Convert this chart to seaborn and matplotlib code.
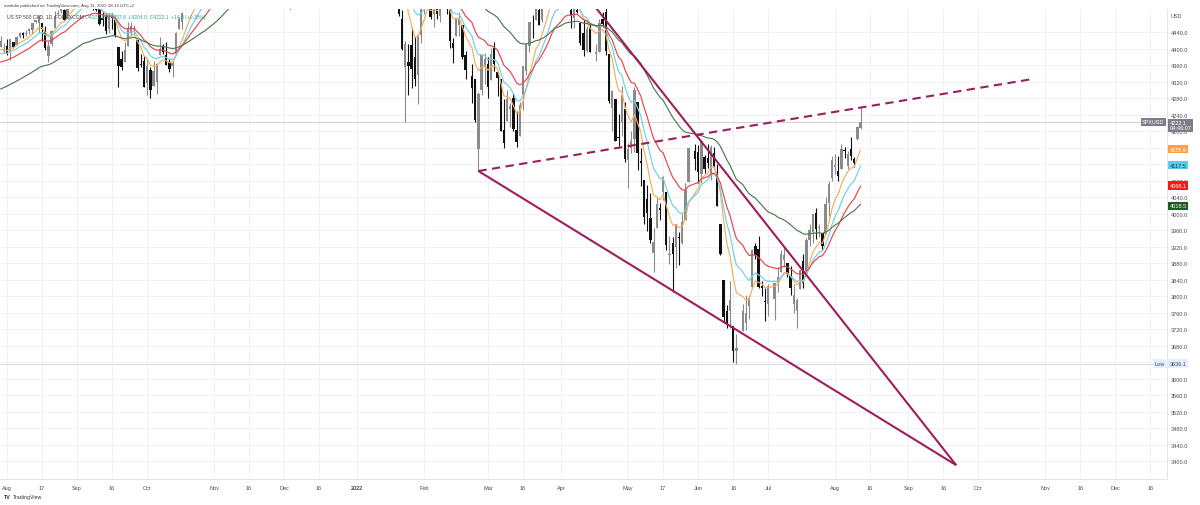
import numpy as np
import pandas as pd
import matplotlib.pyplot as plt
import seaborn as sns

# =========================
# Data: US SP 500 CFD, 1D (FOREXCOM), 29 Jul 2021 - 11 Aug 2022
# =========================
first_day = "2021-07-29"
last_day = "2022-08-11"
holidays = ["2021-09-06", "2021-11-25", "2021-12-24", "2022-01-17", "2022-02-21",
            "2022-04-15", "2022-05-30", "2022-06-20", "2022-07-04"]

opens = [
    4403.6, 4395.1,
    4406.9, 4392.7, 4415.9, 4408.9, 4429.1, 4437.8, 4435.8, 4442.2, 4446.1, 4464.8, 4461.6,
    4462.1, 4440.9, 4382.4, 4410.6, 4450.3, 4484.4, 4490.5, 4493.8, 4474.1, 4513.8, 4529.8,
    4528.8, 4534.5, 4532.4, 4535.4, 4518.1, 4513.0, 4506.9, 4474.8, 4479.3, 4447.5, 4477.1,
    4469.7, 4403.0, 4374.5, 4367.4, 4406.8, 4438.0, 4442.1, 4419.5, 4362.4, 4370.7,
    4317.2, 4348.8, 4309.9, 4319.6, 4383.7, 4406.5, 4385.4, 4368.3, 4358.0, 4386.8, 4447.7,
    4463.7, 4497.3, 4524.4, 4532.2, 4546.1, 4553.7, 4578.7, 4580.2, 4562.8, 4572.9,
    4610.6, 4613.3, 4630.7, 4662.9, 4699.3, 4701.5, 4707.3, 4670.3, 4659.4, 4655.2, 4689.3,
    4679.4, 4701.5, 4700.7, 4708.4, 4712.0, 4678.5, 4675.8, 4664.6, 4628.8, 4640.2,
    4602.8, 4504.7, 4589.5, 4548.4, 4632.0, 4690.9, 4691.0, 4687.6, 4710.3, 4642.0, 4636.5,
    4719.1, 4652.5, 4587.9, 4595.0, 4650.4, 4704.0, 4734.0, 4795.5, 4788.6, 4794.2, 4775.2,
    4778.1, 4804.5, 4788.0, 4693.4, 4697.7, 4655.3, 4669.1, 4728.6, 4733.6, 4638.0,
    4632.2, 4588.0, 4547.4, 4471.4, 4356.3, 4366.6, 4408.4, 4380.6, 4336.2, 4431.8,
    4519.6, 4566.4, 4535.4, 4482.8, 4505.8, 4480.0, 4547.0, 4553.2, 4506.3, 4412.6,
    4429.3, 4455.8, 4456.1, 4384.6, 4332.7, 4324.9, 4155.8, 4298.4, 4354.2,
    4363.1, 4322.6, 4401.3, 4342.1, 4327.0, 4202.7, 4223.1, 4252.6, 4279.5, 4202.8, 4188.8,
    4288.1, 4345.1, 4407.3, 4462.4, 4469.1, 4493.1, 4470.0, 4522.9, 4541.1, 4602.9, 4624.2, 4599.0,
    4540.3, 4548.0, 4572.5, 4494.2, 4474.7, 4494.2, 4462.6, 4437.6, 4394.3, 4449.1,
    4385.6, 4390.6, 4472.3, 4489.2, 4385.8, 4255.3, 4278.1, 4186.5, 4222.6, 4253.8,
    4130.6, 4159.8, 4181.2, 4270.4, 4128.2, 4081.3, 4035.2, 3990.1, 3904.0, 3963.9, 4013.0,
    4052.0, 4052.0, 3899.0, 3927.8, 3919.4, 3942.9, 3929.6, 3984.6, 4077.4, 4151.1,
    4149.8, 4095.4, 4137.6, 4134.7, 4096.5, 4147.1, 4101.7, 3974.4, 3838.2, 3763.5, 3764.1,
    3728.2, 3665.9, 3715.3, 3733.9, 3774.7, 3821.8, 3920.8, 3913.0, 3825.1, 3786.0,
    3781.0, 3792.6, 3832.0, 3858.9, 3888.3, 3880.9, 3852.0, 3779.7, 3764.0, 3818.0,
    3883.8, 3860.7, 3935.3, 3955.5, 4000.5, 3965.7, 3953.2, 3951.4, 4026.1, 4087.3,
    4112.4, 4104.2, 4108.0, 4154.9, 4115.9, 4155.9, 4133.1, 4181.0, 4207.6,
]
highs = [
    4430.0, 4412.3,
    4422.2, 4423.8, 4416.2, 4429.8, 4440.8, 4439.4, 4445.2, 4449.4, 4461.8, 4468.4, 4480.3,
    4462.1, 4454.3, 4418.6, 4444.4, 4489.9, 4492.8, 4501.7, 4495.9, 4513.3, 4537.4, 4531.4,
    4537.1, 4545.9, 4541.5, 4535.4, 4521.8, 4529.9, 4520.5, 4492.0, 4485.7, 4486.9, 4485.9,
    4471.5, 4403.0, 4394.9, 4416.8, 4465.4, 4463.1, 4457.3, 4419.5, 4385.6, 4382.6,
    4375.2, 4355.5, 4369.2, 4365.6, 4429.0, 4412.0, 4415.9, 4374.9, 4372.9, 4439.7, 4475.8,
    4488.8, 4520.4, 4540.9, 4551.4, 4559.7, 4572.6, 4598.5, 4584.6, 4597.6, 4608.1,
    4620.3, 4635.2, 4663.5, 4683.0, 4718.5, 4714.9, 4708.5, 4684.9, 4664.6, 4688.5, 4697.4,
    4715.0, 4701.5, 4708.8, 4717.8, 4743.8, 4699.4, 4702.9, 4664.6, 4673.0, 4646.0,
    4652.9, 4595.5, 4608.0, 4612.6, 4694.0, 4705.1, 4695.3, 4713.6, 4710.3, 4660.5, 4712.6,
    4732.0, 4666.7, 4587.9, 4651.1, 4697.7, 4740.7, 4791.5, 4807.0, 4804.1, 4808.9, 4786.8,
    4796.6, 4818.6, 4797.7, 4725.0, 4708.0, 4673.0, 4714.1, 4749.0, 4744.1, 4665.1,
    4632.2, 4611.6, 4602.1, 4494.5, 4417.4, 4411.0, 4453.2, 4428.7, 4432.7, 4516.9,
    4550.5, 4595.3, 4542.9, 4539.7, 4521.9, 4531.3, 4590.0, 4588.9, 4526.3, 4426.2,
    4472.8, 4489.6, 4456.1, 4394.6, 4362.1, 4324.9, 4294.7, 4385.3, 4388.8,
    4378.5, 4401.5, 4416.8, 4342.1, 4327.0, 4276.9, 4299.4, 4268.3, 4291.0, 4247.6, 4271.1,
    4358.0, 4412.7, 4465.4, 4481.8, 4522.0, 4501.1, 4520.6, 4546.0, 4575.6, 4637.3, 4627.8, 4603.1,
    4548.7, 4583.5, 4593.5, 4503.9, 4521.2, 4520.4, 4464.3, 4471.0, 4453.9, 4460.5,
    4410.3, 4471.0, 4488.3, 4512.9, 4385.8, 4299.0, 4278.1, 4240.7, 4308.5, 4269.7,
    4169.8, 4200.1, 4307.7, 4270.4, 4157.7, 4081.3, 4068.8, 4050.0, 3964.8, 4038.9, 4026.2,
    4090.7, 4052.0, 3946.0, 3943.4, 3975.5, 3955.7, 3999.3, 4075.1, 4158.5, 4168.3,
    4166.5, 4177.5, 4142.7, 4168.8, 4164.9, 4160.1, 4119.1, 3974.4, 3838.2, 3778.2, 3837.6,
    3728.2, 3707.7, 3779.7, 3801.8, 3802.6, 3913.7, 3927.7, 3945.9, 3836.5, 3819.0,
    3829.8, 3832.2, 3870.9, 3910.6, 3918.5, 3880.9, 3873.4, 3829.4, 3796.4, 3863.6,
    3902.4, 3939.8, 3974.1, 3999.3, 4012.4, 3975.3, 3953.2, 4039.6, 4078.9, 4140.2,
    4144.9, 4140.5, 4167.7, 4161.3, 4151.6, 4186.6, 4137.3, 4211.0, 4257.8,
]
lows = [
    4403.6, 4389.7,
    4385.1, 4373.0, 4400.2, 4408.9, 4425.9, 4424.7, 4430.0, 4436.4, 4435.5, 4460.8, 4437.7,
    4417.8, 4397.6, 4367.7, 4406.8, 4450.3, 4482.3, 4485.7, 4469.0, 4474.1, 4513.8, 4515.8,
    4522.0, 4524.7, 4521.7, 4513.0, 4494.0, 4492.1, 4457.7, 4453.4, 4435.5, 4438.4, 4447.1,
    4427.8, 4305.9, 4348.0, 4367.4, 4406.8, 4430.3, 4436.2, 4346.3, 4355.1, 4306.2,
    4288.5, 4278.9, 4309.9, 4290.5, 4383.7, 4386.2, 4360.6, 4342.1, 4329.9, 4386.8, 4447.7,
    4447.5, 4496.4, 4524.4, 4526.9, 4524.0, 4537.4, 4569.2, 4551.7, 4562.8, 4567.6,
    4595.1, 4604.0, 4621.2, 4655.7, 4681.3, 4694.4, 4670.9, 4630.9, 4648.3, 4650.8, 4672.9,
    4679.4, 4684.4, 4672.8, 4694.2, 4682.2, 4652.7, 4659.9, 4585.4, 4625.3, 4560.0,
    4510.3, 4504.7, 4495.1, 4540.5, 4632.0, 4674.5, 4666.0, 4670.2, 4667.6, 4606.5, 4611.2,
    4651.9, 4600.2, 4531.1, 4583.2, 4645.5, 4704.0, 4734.0, 4780.0, 4778.1, 4775.3, 4765.7,
    4758.2, 4774.3, 4699.4, 4671.3, 4662.7, 4582.2, 4638.3, 4716.1, 4650.3, 4614.8,
    4568.7, 4530.2, 4478.0, 4395.3, 4222.6, 4287.1, 4304.8, 4309.5, 4264.7, 4414.0,
    4483.5, 4544.3, 4470.4, 4451.5, 4471.5, 4465.4, 4547.0, 4484.3, 4401.4, 4364.8,
    4429.3, 4429.7, 4373.8, 4327.2, 4267.1, 4221.5, 4103.0, 4286.8, 4315.1,
    4279.5, 4322.6, 4345.6, 4285.0, 4199.9, 4157.9, 4223.1, 4209.8, 4200.5, 4161.7, 4187.9,
    4252.0, 4335.7, 4390.6, 4424.3, 4469.1, 4455.8, 4465.2, 4501.1, 4517.7, 4589.7, 4581.3, 4530.4,
    4507.6, 4539.2, 4514.2, 4450.0, 4450.3, 4485.0, 4408.4, 4381.3, 4392.7, 4390.8,
    4370.3, 4390.6, 4452.2, 4384.5, 4267.6, 4200.8, 4175.0, 4162.9, 4188.6, 4124.3,
    4062.5, 4147.1, 4148.9, 4106.0, 4067.9, 3975.5, 3958.2, 3928.8, 3858.9, 3963.9, 3984.0,
    4033.9, 3911.9, 3876.6, 3810.3, 3868.9, 3875.1, 3925.0, 3984.6, 4077.4, 4104.9,
    4073.9, 4074.4, 4098.7, 4109.2, 4080.2, 4107.2, 4017.2, 3900.2, 3734.3, 3721.6, 3722.3,
    3639.8, 3636.1, 3715.3, 3717.7, 3743.5, 3821.8, 3889.7, 3820.1, 3799.0, 3738.7,
    3752.1, 3742.1, 3809.4, 3858.9, 3869.3, 3847.2, 3802.4, 3759.1, 3721.6, 3817.2,
    3818.6, 3860.7, 3922.0, 3927.6, 3938.9, 3943.5, 3910.7, 3951.4, 3993.0, 4079.2,
    4096.0, 4079.8, 4108.0, 4135.4, 4107.3, 4129.0, 4112.1, 4177.3, 4204.0,
]
closes = [
    4419.2, 4395.3,
    4387.2, 4423.2, 4402.7, 4429.1, 4436.5, 4432.4, 4436.8, 4447.7, 4460.8, 4468.0, 4479.7,
    4448.1, 4400.3, 4405.8, 4441.7, 4479.5, 4486.2, 4496.2, 4470.0, 4509.4, 4528.8, 4522.7,
    4524.1, 4537.0, 4535.4, 4520.0, 4514.1, 4493.3, 4458.6, 4468.7, 4443.1, 4480.7, 4473.8,
    4433.0, 4357.7, 4354.2, 4395.6, 4449.0, 4455.5, 4443.1, 4352.6, 4359.5, 4307.5,
    4357.0, 4300.5, 4345.7, 4363.6, 4399.8, 4391.3, 4361.2, 4350.7, 4363.8, 4438.3, 4471.4,
    4486.5, 4519.6, 4536.2, 4549.8, 4544.9, 4566.5, 4574.8, 4551.7, 4596.4, 4605.4,
    4613.7, 4630.7, 4660.6, 4680.1, 4697.5, 4701.7, 4685.3, 4646.7, 4649.3, 4682.9, 4682.8,
    4700.9, 4688.7, 4704.5, 4698.0, 4682.9, 4690.7, 4701.5, 4594.6, 4655.3, 4567.0,
    4513.0, 4577.1, 4538.4, 4591.7, 4686.8, 4701.2, 4667.5, 4712.0, 4669.0, 4634.1, 4709.9,
    4668.7, 4620.6, 4568.0, 4649.2, 4696.6, 4725.8, 4791.2, 4786.4, 4793.1, 4778.7, 4766.2,
    4796.6, 4793.5, 4700.6, 4696.1, 4677.0, 4670.3, 4713.1, 4726.4, 4659.0, 4662.9,
    4577.1, 4532.8, 4482.7, 4397.9, 4410.1, 4356.5, 4349.9, 4326.5, 4431.9, 4515.6,
    4546.5, 4589.4, 4477.4, 4500.5, 4483.9, 4521.5, 4587.2, 4504.1, 4418.6, 4401.7,
    4471.1, 4475.0, 4380.3, 4348.9, 4304.8, 4225.5, 4288.7, 4384.7, 4373.9,
    4306.3, 4386.5, 4363.5, 4328.9, 4201.1, 4170.7, 4277.9, 4259.5, 4204.3, 4173.1, 4262.5,
    4357.9, 4411.7, 4463.1, 4461.2, 4511.6, 4456.2, 4520.2, 4543.1, 4575.5, 4631.6, 4602.5, 4530.4,
    4545.9, 4582.6, 4525.1, 4481.2, 4500.2, 4488.3, 4412.5, 4397.5, 4446.6, 4392.6,
    4391.7, 4462.2, 4459.5, 4393.7, 4271.8, 4296.1, 4175.2, 4184.0, 4287.5, 4131.9,
    4155.4, 4175.5, 4300.2, 4146.9, 4123.3, 3991.2, 4001.1, 3935.2, 3930.1, 4023.9, 4008.0,
    4088.9, 3923.7, 3900.8, 3901.4, 3973.8, 3941.5, 3978.7, 4057.8, 4158.2, 4132.2,
    4101.2, 4176.8, 4108.5, 4121.4, 4160.7, 4115.8, 4017.8, 3900.9, 3749.6, 3735.5, 3790.0,
    3666.8, 3674.8, 3764.8, 3759.9, 3795.7, 3911.7, 3900.1, 3821.6, 3818.8, 3785.4,
    3825.3, 3831.4, 3845.1, 3902.6, 3899.4, 3854.4, 3818.8, 3801.8, 3790.4, 3863.2,
    3830.9, 3936.7, 3959.9, 3999.0, 3961.6, 3966.8, 3921.1, 4023.6, 4072.4, 4130.3,
    4118.6, 4091.2, 4155.2, 4151.9, 4145.2, 4140.1, 4122.5, 4210.2, 4222.1,
]

# EMA ribbon: periods, value at the left edge of the chart, colours, last-value labels
ma_periods = [8, 13, 21, 50]
ma_start = [4391.0, 4382.0, 4362.0, 4297.0]
ma_colors = ["#f4ad5a", "#6fd0e4", "#e2474b", "#4f7a4f"]
ma_labels = ["4155.9", "4117.5", "4068.1", "4018.5"]
ma_box_colors = ["#f9a33a", "#55cfe6", "#f21b1b", "#1f5a22"]
ma_text_colors = ["white", "#1c3a4a", "white", "white"]

# trendlines (date, price)
wedge_low = [("2022-02-24", 4103.0), ("2022-09-22", 3390.0)]
wedge_high = [("2022-03-29", 4635.0), ("2022-09-22", 3390.0)]
rising_dash = [("2022-02-24", 4103.0), ("2022-10-26", 4326.0)]

last_price = 4222.1
low_price = 3636.1

tick_dates = ["2021-08-02", "2021-08-17", "2021-09-01", "2021-09-16", "2021-10-01",
              "2021-11-01", "2021-11-16", "2021-12-01", "2021-12-16", "2022-01-03",
              "2022-02-01", "2022-03-01", "2022-03-16", "2022-04-01", "2022-05-02",
              "2022-05-17", "2022-06-01", "2022-06-16", "2022-07-01", "2022-08-01",
              "2022-08-16", "2022-09-01", "2022-09-16", "2022-10-03", "2022-11-01",
              "2022-11-16", "2022-12-01", "2022-12-16"]
tick_labels = ["Aug", "17", "Sep", "16", "Oct", "Nov", "16", "Dec", "16", "2022",
               "Feb", "Mar", "16", "Apr", "May", "17", "Jun", "16", "Jul", "Aug",
               "16", "Sep", "16", "Oct", "Nov", "16", "Dec", "16"]
price_ticks = np.arange(3400, 4441, 40)

# =========================
# Build frame (x = weekday index from 2 Aug 2021)
# =========================
origin = np.datetime64("2021-08-02")


def xpos(d):
    return np.busday_count(origin, np.datetime64(d, "D"))


days = pd.bdate_range(first_day, last_day)
days = days[~days.isin(pd.to_datetime(holidays))]
df = pd.DataFrame({"date": days, "open": opens, "high": highs, "low": lows, "close": closes})
df["x"] = np.busday_count(origin, df["date"].values.astype("datetime64[D]"))

for n, seed in zip(ma_periods, ma_start):
    s = pd.Series([seed] + closes).ewm(span=n, adjust=False).mean()
    df[f"ema{n}"] = s.values[1:]

# =========================
# Plot
# =========================
sns.set_theme(style="white")
plt.rcParams["font.family"] = ["Liberation Sans", "DejaVu Sans"]

fig = plt.figure(figsize=(12, 5.06), dpi=100)
ax = fig.add_axes([0, 1 - 480 / 506, 1167 / 1200, 470 / 506])
ax.set_facecolor("white")

# grid
for d in tick_dates:
    ax.axvline(xpos(d), color="#f0f1f4", lw=0.7, zorder=0)
for p in price_ticks:
    ax.axhline(p, color="#f0f1f4", lw=0.7, zorder=0)

ax.axhline(last_price, color="#cfd0d4", lw=0.7, zorder=1)
ax.axhline(low_price, color="#dcdde1", lw=0.7, zorder=1)

# candles
up = df["close"] >= df["open"]
cols = np.where(up, "#8b8b8b", "#111111")
ax.vlines(df["x"], df["low"], df["high"], colors=cols, lw=0.8, zorder=3)
body_lo = np.minimum(df["open"], df["close"])
body_h = np.maximum((df["close"] - df["open"]).abs(), 1.5)
ax.bar(df["x"], body_h, bottom=body_lo, width=0.74, color=cols, lw=0, zorder=3)

# moving averages
for n, c in zip(ma_periods, ma_colors):
    sns.lineplot(x=df["x"], y=df[f"ema{n}"], color=c, lw=0.85, ax=ax, zorder=4)

# trendlines
trend_col = "#9e1d5c"
for line, ls in [(wedge_low, "-"), (wedge_high, "-"), (rising_dash, (0, (4, 2.6)))]:
    xs = [xpos(d) for d, _ in line]
    ys = [p for _, p in line]
    ax.plot(xs, ys, color=trend_col, lw=1.5, ls=ls, zorder=5, solid_capstyle="butt")

ax.set_xlim(-2.2, 364.2)
ax.set_ylim(3356.4, 4495.8)
ax.set_xlabel("")
ax.set_ylabel("")

ax.set_xticks([xpos(d) for d in tick_dates])
ax.set_xticklabels(tick_labels)
for t in ax.get_xticklabels():
    if t.get_text() == "2022":
        t.set_fontweight("bold")
ax.yaxis.tick_right()
ax.set_yticks(price_ticks)
ax.set_yticklabels([f"{p:.1f}" for p in price_ticks])
ax.tick_params(axis="both", length=0, labelsize=4, colors="#4a4a4a")
ax.tick_params(axis="x", pad=4.5)
ax.tick_params(axis="y", pad=2.5)
for s in ["top", "left"]:
    ax.spines[s].set_visible(False)
for s in ["right", "bottom"]:
    ax.spines[s].set_color("#e3e4e8")
    ax.spines[s].set_linewidth(0.7)

# price scale labels
yt = ax.get_yaxis_transform()
ax.text(1.003, 4479, "USD", transform=yt, fontsize=4, color="#4a4a4a", va="center")
ax.text(1.002, last_price + 4, f"{last_price:.1f}\n04:46:07", transform=yt, fontsize=4,
        color="white", va="top", ha="left", linespacing=1.05,
        bbox=dict(boxstyle="square,pad=0.3", fc="#7c7f88", ec="none"), zorder=10)
ax.text(0.998, last_price, "SPXUSD", transform=yt, fontsize=4, color="white",
        va="center", ha="right",
        bbox=dict(boxstyle="square,pad=0.3", fc="#7c7f88", ec="none"), zorder=10)
for lab, bc, tc in zip(ma_labels, ma_box_colors, ma_text_colors):
    ax.text(1.002, float(lab), lab, transform=yt, fontsize=4, color=tc, va="center",
            ha="left", bbox=dict(boxstyle="square,pad=0.3", fc=bc, ec="none"), zorder=10)
ax.text(0.998, low_price, "Low", transform=yt, fontsize=4, color="#3a4a6a", va="center",
        ha="right", bbox=dict(boxstyle="square,pad=0.3", fc="#e4eefb", ec="none"), zorder=10)
ax.text(1.002, low_price, f"{low_price:.1f}", transform=yt, fontsize=4, color="#3a4a6a",
        va="center", ha="left",
        bbox=dict(boxstyle="square,pad=0.3", fc="#e4eefb", ec="none"), zorder=10)

# header
fig.text(4 / 1200, 1 - 6 / 506, "mmkdin published on TradingView.com, Aug 11, 2022 18:13 UTC+2",
         fontsize=3.2, color="#3c3c3c", va="center")
fig.text(7 / 1200, 1 - 17 / 506, "US SP 500 CFD, 1D, FOREXCOM", fontsize=3.6,
         color="#3c3c3c", va="center")
fig.text(85 / 1200, 1 - 17 / 506, "O4207.6  H4257.8  L4204.0  C4222.1  +14.8 (+0.35%)",
         fontsize=3.6, color="#2aa69a", va="center")

# footer
fig.text(4 / 1200, 1 - 498 / 506, "TV", fontsize=3.8, fontweight="bold", color="#222222",
         va="center")
fig.text(13 / 1200, 1 - 498 / 506, "TradingView", fontsize=3.8, color="#333333", va="center")

fig.savefig("out.png", dpi=100)
plt.close(fig)
